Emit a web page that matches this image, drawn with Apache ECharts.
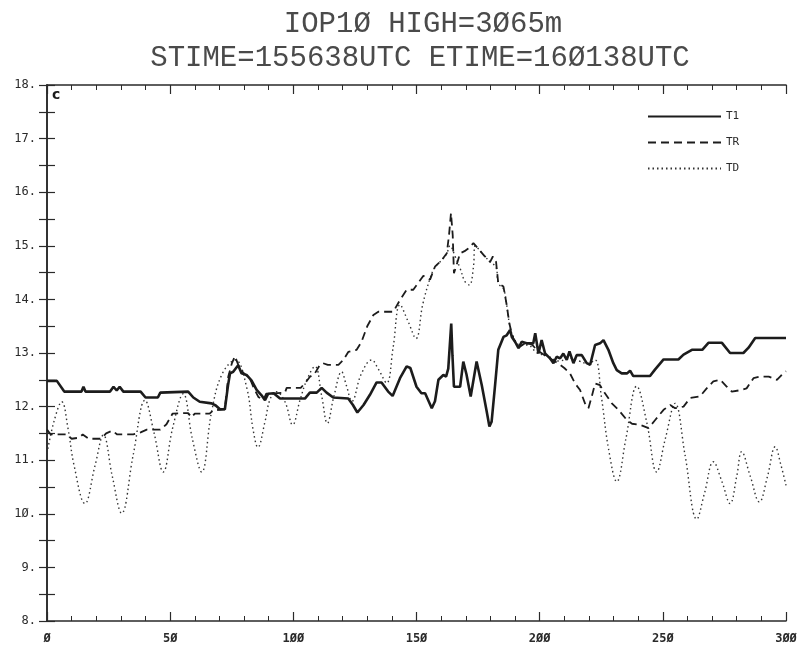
<!DOCTYPE html>
<html>
<head>
<meta charset="utf-8">
<script src="https://cdn.jsdelivr.net/npm/echarts@6/dist/echarts.min.js"></script>
<style>
  html, body { margin: 0; padding: 0; background: #fff; }
  #chart { width: 806px; height: 655px; }
</style>
</head>
<body>
<div id="chart"></div>
<script>
// Flight-leg temperature traces: [distance, temperature]
const t1Points = [
  [0,12.48],[4,12.48],[7,12.28],[14,12.28],[14.8,12.37],[15.6,12.28],[25.6,12.28],[27,12.37],[28.3,12.3],[29.5,12.37],
  [31,12.28],[38,12.28],[40,12.17],[45,12.17],[46,12.26],[57.3,12.28],[59.4,12.17],[62,12.09],[66.8,12.06],[68.5,12.02],
  [70.2,11.95],[72.2,11.95],[73.5,12.4],[74.3,12.62],[75.6,12.65],[77.6,12.77],[79,12.62],[81,12.59],[83,12.49],[85.1,12.31],
  [87.1,12.21],[88.5,12.12],[89.8,12.24],[92,12.25],[94.6,12.15],[104.7,12.15],[106.7,12.26],[109.5,12.26],[111.5,12.35],[113.5,12.26],
  [116.2,12.17],[122.3,12.15],[124.2,12.03],[126,11.89],[128.5,12.03],[131.1,12.22],[133.8,12.45],[135.8,12.45],[138.5,12.28],[140.3,12.2],
  [143.3,12.53],[146,12.75],[147.5,12.72],[150,12.37],[152,12.25],[153.5,12.25],[156.2,11.97],[157.5,12.1],[158.9,12.5],[160.9,12.59],
  [162,12.56],[162.9,12.71],[164.1,13.55],[164.6,12.95],[165.2,12.37],[167.7,12.37],[169,12.84],[170.3,12.6],[172,12.19],[174.4,12.84],
  [176.5,12.4],[178.5,11.91],[179.6,11.63],[180.5,11.72],[181.9,12.4],[183.2,13.06],[185.3,13.3],[186.6,13.33],[188,13.43],[188.7,13.3],
  [190,13.21],[191.4,13.09],[192.7,13.21],[194.7,13.18],[197.4,13.18],[198.2,13.37],[199.5,12.99],[200.8,13.24],[202.2,12.99],[204.2,12.9],
  [205.6,12.81],[206.9,12.93],[208.3,12.9],[209.6,12.99],[211,12.87],[212.1,13.03],[213.7,12.81],[215,12.96],[217.1,12.96],[219.1,12.81],
  [220.5,12.78],[222.5,13.15],[224.5,13.18],[225.9,13.24],[227.9,13.06],[229.9,12.81],[231.3,12.68],[233.3,12.62],[235.5,12.62],[236.7,12.67],
  [238,12.57],[244.8,12.57],[246.8,12.69],[250.3,12.88],[256.3,12.88],[258.4,12.97],[261.8,13.06],[266,13.06],[268.5,13.19],[274,13.19],
  [277.3,13.0],[282.7,13.0],[284.8,13.1],[287.5,13.28],[300,13.28]
];

const trPoints = [
  [0,11.57],[1.5,11.48],[8,11.48],[10,11.4],[13,11.42],[14.5,11.48],[17,11.4],[22,11.4],[24,11.5],[26.5,11.55],
  [28.5,11.48],[35,11.48],[38,11.52],[40.5,11.57],[46,11.57],[48.5,11.67],[51,11.87],[57.3,11.88],[58.7,11.8],[60,11.87],
  [66,11.87],[67.5,11.93],[72.2,11.95],[73.6,12.56],[75,12.8],[76.3,12.94],[78.3,12.7],[80.4,12.6],[82.4,12.52],[84,12.34],
  [85.8,12.18],[87.8,12.12],[89,12.24],[96.6,12.26],[97.3,12.35],[103,12.35],[105,12.45],[106.8,12.56],[108.5,12.6],[110.8,12.78],
  [112,12.81],[114,12.78],[118.3,12.78],[120.3,12.87],[122.3,13.02],[125.7,13.06],[127.7,13.21],[130,13.5],[132.5,13.71],[134.5,13.77],
  [140.6,13.77],[143.3,13.99],[146,14.18],[148.7,14.18],[152.8,14.44],[155.5,14.37],[157.5,14.61],[160.2,14.73],[162.3,14.86],[163.2,15.2],
  [164,15.61],[164.7,15.2],[165.2,14.49],[166,14.6],[167.7,14.86],[169.5,14.9],[171,14.95],[173.1,15.05],[175,14.95],[177.2,14.83],
  [179.9,14.7],[181,14.8],[182.3,14.7],[183.2,14.3],[185.3,14.24],[186.6,13.9],[187.7,13.55],[188.5,13.4],[189.3,13.27],[191.4,13.1],
  [193,13.15],[195,13.2],[197,13.15],[199,13.05],[202.9,12.93],[206,12.85],[208.3,12.78],[210,12.72],[212.3,12.62],[214.4,12.43],
  [216.4,12.31],[218.4,12.06],[219.8,11.97],[221.1,12.18],[222.5,12.43],[224.5,12.4],[226.5,12.25],[229.3,12.06],[232,11.94],[235.4,11.75],
  [237.5,11.68],[240.8,11.66],[244.2,11.6],[246.9,11.75],[250.3,11.94],[253,12.03],[255,11.97],[258.4,12.0],[261.1,12.16],[265.1,12.19],
  [267.8,12.34],[270.5,12.47],[273.3,12.5],[276,12.37],[278,12.28],[282,12.31],[284,12.34],[286.8,12.53],[289.5,12.56],[293,12.56],
  [296.3,12.5],[298,12.58],[300,12.66]
];

const tdPoints = [
  [0,11.13],[3,11.75],[6,12.09],[8.5,11.6],[11,10.9],[15.4,10.19],[19.5,10.9],[22.9,11.47],[26.5,10.7],[30.3,10.01],
  [35,11.1],[39.8,12.12],[43.5,11.5],[47.2,10.78],[51,11.6],[55.3,12.24],[59,11.4],[62.8,10.78],[66.8,11.9],[71,12.6],
  [76.5,12.87],[81,12.37],[83.7,11.56],[85.6,11.24],[88.5,11.72],[90.5,12.13],[93,12.28],[96.6,12.09],[99.7,11.66],[102.7,12.12],
  [105.5,12.5],[108.8,12.75],[111.5,12.2],[113.8,11.69],[116.5,12.2],[119.6,12.65],[121.5,12.4],[123.8,12.1],[127.5,12.6],[131.8,12.87],
  [134.5,12.7],[137.9,12.44],[140.5,13.1],[143.3,13.9],[146.5,13.6],[149.8,13.27],[152.5,13.9],[155.5,14.39],[157.5,14.6],[160.2,14.73],
  [162.3,14.86],[163.6,15.0],[165.7,14.8],[167.7,14.58],[169.7,14.33],[171.5,14.27],[173.1,14.6],[173.8,15.0],[175,14.95],[177.2,14.83],
  [179.9,14.7],[182.3,14.6],[183.2,14.3],[185.3,14.2],[186.6,13.9],[187.7,13.55],[189.3,13.3],[192,13.15],[195,13.15],[199,13.0],
  [203,12.95],[208,12.85],[212,12.9],[216,12.85],[219.5,12.8],[222.5,12.87],[225,12.2],[228,11.2],[231.3,10.6],[235,11.4],
  [239.4,12.38],[243.5,11.7],[247.5,10.78],[251,11.4],[255,12.06],[259,11.1],[263.8,9.9],[267,10.4],[270.5,10.97],[274,10.6],
  [277.3,10.19],[280,10.7],[282,11.16],[285.5,10.7],[289.2,10.22],[292.5,10.7],[295.6,11.25],[298,10.9],[300,10.53]
];

const seriesNames = ['T1', 'TR', 'TD'];
const titleLine1 = 'IOP1Ø HIGH=3Ø65m';
const titleLine2 = 'STIME=155638UTC ETIME=16Ø138UTC';
const panelLabel = 'c';

const X_MIN = 0, X_MAX = 300, X_STEP = 50;
const Y_MIN = 8, Y_MAX = 18, Y_STEP = 1;

const INK = '#1c1c1c';
const MONO = '"DejaVu Sans Mono", "Liberation Mono", monospace';
const TITLE_FONT = '"Liberation Mono", monospace';

// zeros drawn slashed, like the plotter font
const slashZero = v => String(v).replace(/0/g, 'Ø');

const frameLine = { show: true, lineStyle: { color: '#2a2a2a', width: 1.6 } };

function xAxisDef(pos, labels) {
  return {
    type: 'value', position: pos, min: X_MIN, max: X_MAX, interval: X_STEP,
    axisLine: frameLine,
    axisTick: { show: true, inside: true, length: 9, lineStyle: { color: '#2a2a2a', width: 1.2 } },
    minorTick: { show: true, splitNumber: 5, length: 5, lineStyle: { color: '#2a2a2a', width: 1 } },
    splitLine: { show: false },
    axisLabel: labels ? {
      show: true, margin: 12, color: '#2a2a2a', fontSize: 12, fontWeight: 'bold',
      fontFamily: MONO, formatter: slashZero
    } : { show: false }
  };
}

function yAxisDef(pos, labels) {
  return {
    type: 'value', position: pos, min: Y_MIN, max: Y_MAX, interval: Y_STEP,
    axisLine: frameLine,
    axisTick: { show: true, inside: true, length: 8, lineStyle: { color: '#2a2a2a', width: 1.2 } },
    minorTick: { show: true, splitNumber: 2, length: 8, lineStyle: { color: '#2a2a2a', width: 1.2 } },
    splitLine: { show: false },
    axisLabel: labels ? {
      show: true, margin: 11, color: '#2a2a2a', fontSize: 12,
      fontFamily: MONO, formatter: v => slashZero(v) + '.'
    } : { show: false }
  };
}

const chart = echarts.init(document.getElementById('chart'), null, { renderer: 'canvas' });

chart.setOption({
  backgroundColor: '#fff',
  animation: false,
  title: [
    { text: titleLine1, left: 418, top: 5, textAlign: 'center',
      textStyle: { fontFamily: TITLE_FONT, fontSize: 29, fontWeight: 'normal', color: '#4a4a4a' } },
    { text: titleLine2, left: 415, top: 39, textAlign: 'center',
      textStyle: { fontFamily: TITLE_FONT, fontSize: 29, fontWeight: 'normal', color: '#4a4a4a' } }
  ],
  grid: { left: 47, right: 20, top: 85, bottom: 34, containLabel: false },
  xAxis: [xAxisDef('bottom', true), xAxisDef('top', false)],
  yAxis: [yAxisDef('left', true), yAxisDef('right', false)],
  legend: {
    data: seriesNames, orient: 'vertical', left: 642, top: 106,
    itemWidth: 73, itemHeight: 12, itemGap: 15,
    itemStyle: { opacity: 0 },
    textStyle: { fontFamily: MONO, fontSize: 11, color: '#2a2a2a', padding: [0, 0, 0, 0] }
  },
  graphic: [
    { type: 'text', left: 52, top: 88,
      style: { text: panelLabel, font: 'bold 14px "DejaVu Sans", sans-serif', fill: INK } }
  ],
  series: [
    { name: 'T1', type: 'line', data: t1Points, symbol: 'none', z: 4,
      lineStyle: { color: INK, width: 2.6, type: 'solid' }, itemStyle: { color: INK } },
    { name: 'TR', type: 'line', data: trPoints, symbol: 'none', z: 3,
      lineStyle: { color: INK, width: 1.8, type: [8, 5] }, itemStyle: { color: INK } },
    { name: 'TD', type: 'line', data: tdPoints, symbol: 'none', z: 2, smooth: 0.4,
      lineStyle: { color: '#333', width: 1.4, type: [1.5, 3] }, itemStyle: { color: '#333' } }
  ]
});
</script>
</body>
</html>
